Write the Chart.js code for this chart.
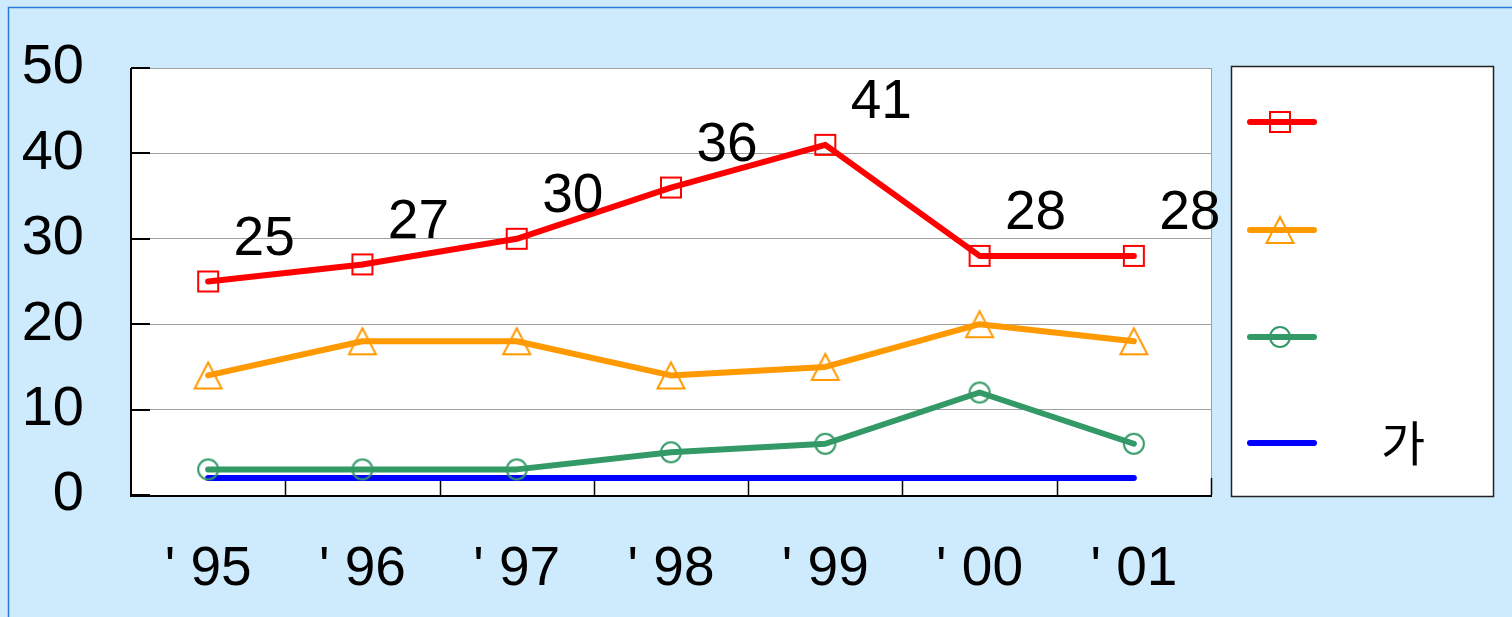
<!DOCTYPE html>
<html>
<head>
<meta charset="utf-8">
<script src="https://cdn.jsdelivr.net/npm/chart.js@4"></script>
<style>
html,body{margin:0;padding:0;background:#cdebfc;overflow:hidden;}
#wrap{width:1512px;height:617px;position:relative;}
</style>
</head>
<body>
<div id="wrap"><canvas id="c" width="1512" height="617"></canvas></div>
<script>
// ---- data ----
const categories = ["' 95", "' 96", "' 97", "' 98", "' 99", "' 00", "' 01"];
const seriesNames = ["", "", "", "가"];
const redValues = [25, 27, 30, 36, 41, 28, 28];
const orangeValues = [14, 18, 18, 14, 15, 20, 18];
const greenValues = [3, 3, 3, 5, 6, 12, 6];
const blueValues = [2, 2, 2, 2, 2, 2, 2];
const yTicks = [0, 10, 20, 30, 40, 50];

const FONT = "'Liberation Sans', Arial, sans-serif";

function makeMarker(type, color) {
  const c = document.createElement('canvas');
  c.width = 32; c.height = 32;
  const x = c.getContext('2d');
  x.strokeStyle = color; x.lineWidth = 2;
  x.beginPath();
  if (type === 'square') { x.rect(6, 6, 20, 20); }
  else if (type === 'triangle') { x.moveTo(16, 3); x.lineTo(29.5, 29); x.lineTo(2.5, 29); x.closePath(); }
  else if (type === 'circle') { x.arc(16, 16, 10, 0, Math.PI * 2); }
  x.stroke();
  return c;
}
const mSquare = makeMarker('square', '#ff0000');
const mTri = makeMarker('triangle', '#ff9900');
const mCirc = makeMarker('circle', '#339966');

const framePlugin = {
  id: 'frame',
  beforeDraw(chart) {
    const ctx = chart.ctx, a = chart.chartArea;
    ctx.save();
    ctx.fillStyle = '#cdebfc';
    ctx.fillRect(0, 0, chart.width, chart.height);
    ctx.strokeStyle = '#2a7bd8'; ctx.lineWidth = 1.5;
    ctx.beginPath();
    ctx.moveTo(8.5, chart.height); ctx.lineTo(8.5, 7.5); ctx.lineTo(chart.width, 7.5);
    ctx.stroke();
    ctx.fillStyle = '#ffffff';
    ctx.fillRect(a.left, a.top, a.right - a.left, a.bottom - a.top);
    ctx.restore();
  },
  beforeDatasetsDraw(chart) {
    const ctx = chart.ctx, a = chart.chartArea;
    const xs = chart.scales.x, ys = chart.scales.y;
    ctx.save();
    ctx.strokeStyle = '#a0a0a0'; ctx.lineWidth = 1;
    ctx.beginPath(); ctx.moveTo(a.right + 0.5, a.top); ctx.lineTo(a.right + 0.5, a.bottom); ctx.stroke();
    ctx.strokeStyle = '#000'; ctx.lineWidth = 2;
    ctx.beginPath();
    ctx.moveTo(a.left, a.top); ctx.lineTo(a.left, a.bottom + 1); ctx.lineTo(a.right + 1, a.bottom + 1);
    ctx.stroke();
    yTicks.forEach(v => {
      const y = Math.round(ys.getPixelForValue(v));
      ctx.beginPath(); ctx.moveTo(a.left, y); ctx.lineTo(a.left + 19, y); ctx.stroke();
    });
    ctx.lineWidth = 1.5;
    for (let i = 1; i <= categories.length; i++) {
      const x = i < categories.length
        ? (xs.getPixelForValue(i - 1) + xs.getPixelForValue(i)) / 2
        : a.right;
      ctx.beginPath(); ctx.moveTo(Math.round(x) + 0.5, a.bottom); ctx.lineTo(Math.round(x) + 0.5, a.bottom - 17); ctx.stroke();
    }
    ctx.restore();
  },
  afterDraw(chart) {
    const ctx = chart.ctx;
    ctx.save();
    const meta = chart.getDatasetMeta(0);
    ctx.fillStyle = '#000';
    ctx.font = '55px ' + FONT;
    ctx.textAlign = 'center'; ctx.textBaseline = 'middle';
    meta.data.forEach((p, i) => {
      ctx.fillText(String(chart.data.datasets[0].data[i]), p.x + 56, p.y - 42);
    });
    const lx = 1231, ly = 66, lw = 262, lh = 430;
    ctx.fillStyle = '#fff'; ctx.fillRect(lx, ly, lw, lh);
    ctx.strokeStyle = '#222'; ctx.lineWidth = 1.5;
    ctx.strokeRect(lx + 0.5, ly + 0.5, lw, lh);
    const rows = [122, 230, 337, 443];
    chart.data.datasets.forEach((ds, i) => {
      const y = rows[i];
      ctx.strokeStyle = ds.borderColor; ctx.lineWidth = 6; ctx.lineCap = 'round';
      ctx.beginPath(); ctx.moveTo(1250, y); ctx.lineTo(1314, y); ctx.stroke();
      if (ds.pointStyle && ds.pointRadius > 0) ctx.drawImage(ds.pointStyle, 1280 - 16, y - 16);
      ctx.fillStyle = '#000';
      ctx.font = "48px 'Noto Sans CJK KR', " + FONT;
      ctx.textAlign = 'center'; ctx.textBaseline = 'middle';
      ctx.fillText(ds.label, 1403, y);
    });
    ctx.restore();
  }
};

const common = { borderWidth: 6, fill: false, tension: 0, borderCapStyle: 'round', borderJoinStyle: 'round', pointHoverRadius: 10 };

new Chart(document.getElementById('c'), {
  type: 'line',
  data: {
    labels: categories,
    datasets: [
      Object.assign({ label: seriesNames[0], data: redValues, borderColor: '#ff0000', pointStyle: mSquare, pointRadius: 10 }, common),
      Object.assign({ label: seriesNames[1], data: orangeValues, borderColor: '#ff9900', pointStyle: mTri, pointRadius: 10 }, common),
      Object.assign({ label: seriesNames[2], data: greenValues, borderColor: '#339966', pointStyle: mCirc, pointRadius: 10 }, common),
      Object.assign({ label: seriesNames[3], data: blueValues, borderColor: '#0000ff', pointStyle: false, pointRadius: 0 }, common)
    ]
  },
  options: {
    responsive: false,
    animation: false,
    devicePixelRatio: 1,
    layout: { padding: { left: 0, top: 68, right: 301, bottom: 0 } },
    plugins: { legend: { display: false }, tooltip: { enabled: false } },
    scales: {
      x: {
        offset: true,
        grid: { display: false },
        border: { display: false },
        ticks: { color: '#000', font: { family: FONT, size: 55 }, padding: 34, maxRotation: 0, autoSkip: false },
        afterFit: s => { s.height = 617 - 495; s.paddingLeft = 0; s.paddingRight = 0; }
      },
      y: {
        min: 0, max: 50,
        afterBuildTicks: s => { s.ticks = yTicks.map(v => ({ value: v })); },
        grid: { color: '#a0a0a0', lineWidth: 1, drawTicks: false },
        border: { display: false },
        ticks: { color: '#000', font: { family: FONT, size: 56 }, padding: 47 },
        afterFit: s => { s.width = 131; s.paddingTop = 0; s.paddingBottom = 0; }
      }
    }
  },
  plugins: [framePlugin]
});
</script>
</body>
</html>
